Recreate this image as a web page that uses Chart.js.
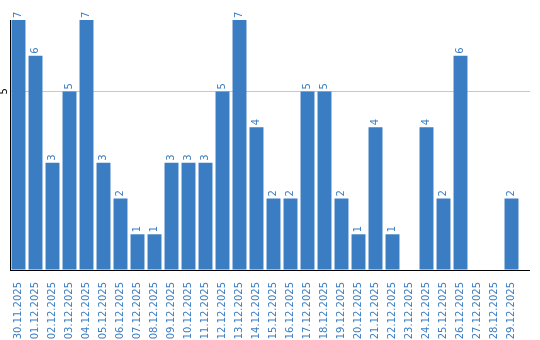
<!DOCTYPE html>
<html lang="de">
<head>
    <meta charset="UTF-8">
    <title>Tageswerte</title>
    <script src="https://cdn.jsdelivr.net/npm/chart.js"></script>
    <style>
        body { margin: 0; background: #fff; }
        canvas { display: block; }
    </style>
</head>
<body>
    <canvas id="barChart" width="540" height="340"></canvas>
    <script>
        // Data
        const days = [
            '30.11.2025', '01.12.2025', '02.12.2025', '03.12.2025', '04.12.2025',
            '05.12.2025', '06.12.2025', '07.12.2025', '08.12.2025', '09.12.2025',
            '10.12.2025', '11.12.2025', '12.12.2025', '13.12.2025', '14.12.2025',
            '15.12.2025', '16.12.2025', '17.12.2025', '18.12.2025', '19.12.2025',
            '20.12.2025', '21.12.2025', '22.12.2025', '23.12.2025', '24.12.2025',
            '25.12.2025', '26.12.2025', '27.12.2025', '28.12.2025', '29.12.2025'
        ];
        const counts = [7, 6, 3, 5, 7, 3, 2, 1, 1, 3, 3, 3, 5, 7, 4, 2, 2, 5, 5, 2, 1, 4, 1, 0, 4, 2, 6, 0, 0, 2];
        const yTicks = [5];

        const blue = '#3b7dc3';
        const gridGrey = '#c8c8c8';
        const font = 'DejaVu Sans';
        const lineEnd = 530; // axis and grid lines run a bit past the last bar

        // rotated value labels, y tick label and the longer lines on the right
        const extras = {
            id: 'extras',
            beforeDatasetsDraw(chart) {
                const ctx = chart.ctx;
                const area = chart.chartArea;
                const y = chart.scales.y;
                ctx.save();
                ctx.strokeStyle = gridGrey;
                ctx.lineWidth = 1;
                yTicks.forEach(v => {
                    const py = Math.round(y.getPixelForValue(v)) + 0.5;
                    ctx.beginPath();
                    ctx.moveTo(area.right, py);
                    ctx.lineTo(lineEnd, py);
                    ctx.stroke();
                });
                ctx.restore();
            },
            afterDatasetsDraw(chart) {
                const ctx = chart.ctx;
                const meta = chart.getDatasetMeta(0);
                const area = chart.chartArea;
                const y = chart.scales.y;
                ctx.save();
                ctx.font = '10px "' + font + '"';
                ctx.fillStyle = blue;
                ctx.textBaseline = 'middle';
                ctx.textAlign = 'left';
                meta.data.forEach((bar, i) => {
                    if (!counts[i]) return;
                    ctx.save();
                    ctx.translate(bar.x, bar.y - 2);
                    ctx.rotate(-Math.PI / 2);
                    ctx.fillText(String(counts[i]), 0, 0);
                    ctx.restore();
                });
                ctx.fillStyle = '#000';
                ctx.textAlign = 'center';
                yTicks.forEach(v => {
                    ctx.save();
                    ctx.translate(area.left - 6, y.getPixelForValue(v));
                    ctx.rotate(-Math.PI / 2);
                    ctx.fillText(String(v), 0, 0);
                    ctx.restore();
                });
                ctx.strokeStyle = '#000';
                ctx.lineWidth = 1;
                ctx.beginPath();
                ctx.moveTo(area.right, area.bottom + 0.5);
                ctx.lineTo(lineEnd, area.bottom + 0.5);
                ctx.stroke();
                ctx.restore();
            }
        };

        new Chart(document.getElementById('barChart'), {
            type: 'bar',
            data: {
                labels: days,
                datasets: [{
                    data: counts,
                    backgroundColor: blue,
                    barPercentage: 0.82,
                    categoryPercentage: 1
                }]
            },
            options: {
                responsive: false,
                animation: false,
                layout: { padding: { left: 10, right: 20, top: 20, bottom: 0 } },
                plugins: {
                    legend: { display: false },
                    tooltip: { enabled: false }
                },
                scales: {
                    x: {
                        grid: { display: false },
                        border: { color: '#000', width: 1 },
                        ticks: {
                            color: blue,
                            font: { family: font, size: 10 },
                            minRotation: 90,
                            maxRotation: 90,
                            autoSkip: false,
                            padding: 4
                        },
                        afterFit(scale) { scale.height = 70; }
                    },
                    y: {
                        min: 0,
                        max: 7,
                        ticks: { display: false, stepSize: 5 },
                        grid: {
                            color: c => yTicks.includes(c.tick.value) ? gridGrey : 'rgba(0,0,0,0)',
                            drawTicks: false
                        },
                        border: { color: '#000', width: 1 },
                        afterFit(scale) { scale.width = 0; }
                    }
                }
            },
            plugins: [extras]
        });
    </script>
</body>
</html>
